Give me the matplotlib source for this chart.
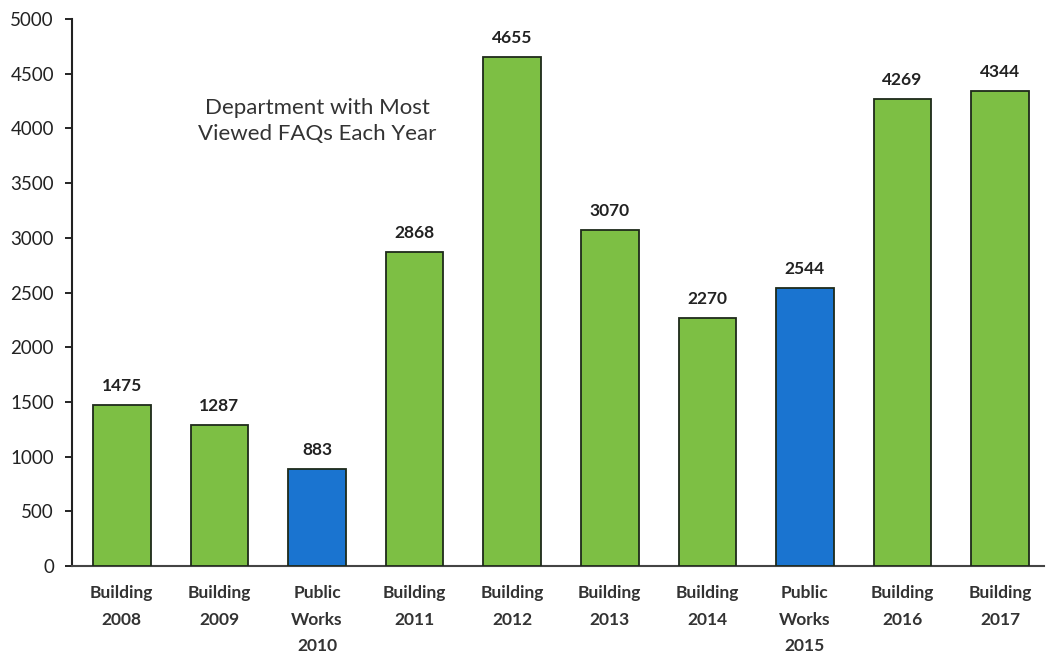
import matplotlib
matplotlib.use("Agg")
import matplotlib.pyplot as plt

categories = ["Building\n2008", "Building\n2009", "Public\nWorks\n2010", "Building\n2011",
              "Building\n2012", "Building\n2013", "Building\n2014", "Public\nWorks\n2015",
              "Building\n2016", "Building\n2017"]
values = [1475, 1287, 883, 2868, 4655, 3070, 2270, 2544, 4269, 4344]
departments = ["Building", "Building", "Public Works", "Building", "Building", "Building",
               "Building", "Public Works", "Building", "Building"]
yticks = [0, 500, 1000, 1500, 2000, 2500, 3000, 3500, 4000, 4500, 5000]

colors = {"Building": "#7dbf44", "Public Works": "#1a74d0"}

plt.rcParams['font.family'] = ['Lato', 'DejaVu Sans']

fig = plt.figure(figsize=(10.46, 6.54), dpi=100)
ax = fig.add_axes([72/1046, (654-566)/654, (1044-72)/1046, (566-19)/654])

x = list(range(len(values)))
bars = ax.bar(x, values, width=0.59, color=[colors[d] for d in departments],
              edgecolor="#1e2a1a", linewidth=1.3, zorder=3)
for xi, v in zip(x, values):
    ax.text(xi, v + 100, str(v), ha="center", va="bottom", fontsize=12.5,
            fontweight="bold", color="#222222")

ax.set_ylim(0, 5000)
ax.set_xlim(-0.51, 9.45)
ax.set_yticks(yticks)
ax.set_yticklabels([str(t) for t in yticks], fontsize=13.5, color="#222222")
ax.set_xticks(x)
ax.set_xticklabels(categories, fontsize=12.5, fontweight="bold", color="#333333",
                   linespacing=1.8, va="top")
ax.tick_params(axis="x", length=0, pad=14)
ax.tick_params(axis="y", length=5, width=1.2, direction="out", pad=8)
for s in ["top", "right"]:
    ax.spines[s].set_visible(False)
ax.spines["left"].set_linewidth(1.5)
ax.spines["bottom"].set_linewidth(1.5)
ax.spines["left"].set_color("#222222")
ax.spines["bottom"].set_color("#444444")

ax.text(2.0, 4070, "Department with Most\nViewed FAQs Each Year", ha="center", va="center",
        fontsize=16, color="#333333", linespacing=1.4)

fig.savefig("out.png", dpi=100)
